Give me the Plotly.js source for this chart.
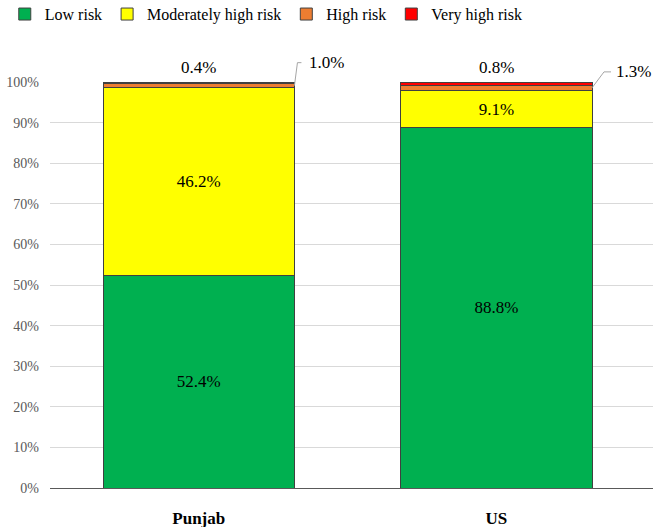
<!DOCTYPE html>
<html>
<head>
<meta charset="utf-8">
<script src="https://cdn.plot.ly/plotly-3.0.1.min.js"></script>
<style>html,body{margin:0;padding:0;background:#fff;}#chart{width:661px;height:527px;}</style>
</head>
<body>
<div id="chart"></div>
<script>
const categories = ['Punjab', 'US'];
const lowRisk = [52.4, 88.8];
const modRisk = [46.2, 9.1];
const highRisk = [1.0, 1.3];
const veryHighRisk = [0.4, 0.8];
const seriesNames = ['Low risk', 'Moderately high risk', 'High risk', 'Very high risk'];
const seriesColors = ['#00B050', '#FFFF00', '#ED7D31', '#FF0000'];

// style / layout constants
const FONT = '"Liberation Serif", "Times New Roman", serif';
const BARGAP = 0.357;
const Y_MAX = 100;
const halfBar = (1 - BARGAP) / 2;
// leader line geometry (pixels) for each category
const leaderUp = [23, 16];
const leaderDiag = [3, 12];
const leaderFlat = [4, 7];
const labelGap = [6, 3];

const allSeries = [lowRisk, modRisk, highRisk, veryHighRisk];
const traces = allSeries.map((vals, i) => ({
  type: 'bar',
  name: seriesNames[i],
  x: categories,
  y: vals,
  marker: {color: seriesColors[i], line: {color: '#404040', width: 1}},
  text: i < 2 ? vals.map(v => v.toFixed(1) + '%') : undefined,
  textposition: i < 2 ? 'inside' : 'none',
  insidetextanchor: 'middle',
  textangle: 0,
  insidetextfont: {family: FONT, size: 17, color: '#000'},
  hoverinfo: 'skip'
}));

const annotations = [];
const shapes = [];
categories.forEach((c, k) => {
  const total = lowRisk[k] + modRisk[k] + highRisk[k] + veryHighRisk[k];
  annotations.push({
    x: k, y: total, xref: 'x', yref: 'y',
    text: veryHighRisk[k].toFixed(1) + '%',
    showarrow: false, yanchor: 'bottom', yshift: 3,
    font: {family: FONT, size: 17, color: '#000'}
  });
  const yMid = lowRisk[k] + modRisk[k] + highRisk[k] / 2;
  const xEdge = k + halfBar;
  const dx = leaderDiag[k], dy = leaderUp[k], fx = leaderFlat[k];
  shapes.push({
    type: 'path', xref: 'x', yref: 'paper',
    xsizemode: 'pixel', ysizemode: 'pixel',
    xanchor: xEdge, yanchor: yMid / Y_MAX,
    path: `M0,0 L${dx},${dy} L${dx + fx},${dy}`,
    line: {color: '#a6a6a6', width: 1}
  });
  annotations.push({
    x: xEdge, y: yMid, xref: 'x', yref: 'y',
    text: highRisk[k].toFixed(1) + '%',
    showarrow: false, xanchor: 'left', yanchor: 'middle',
    xshift: dx + fx + labelGap[k], yshift: dy,
    font: {family: FONT, size: 17, color: '#000'}
  });
});

const layout = {
  width: 661, height: 527,
  font: {family: FONT},
  margin: {l: 50, r: 8, t: 82, b: 39, autoexpand: false},
  paper_bgcolor: '#fff', plot_bgcolor: '#fff',
  barmode: 'stack',
  bargap: BARGAP,
  showlegend: true,
  legend: {
    orientation: 'h', x: -0.075, xanchor: 'left', y: 1.209, yanchor: 'top',
    font: {family: FONT, size: 16, color: '#000'},
    traceorder: 'normal', bgcolor: 'rgba(0,0,0,0)'
  },
  xaxis: {
    type: 'category',
    showline: true, linecolor: '#595959', linewidth: 1.3,
    showgrid: false, zeroline: false,
    ticks: '', ticklabelstandoff: 14,
    tickfont: {family: FONT, size: 17, color: '#000', weight: 'bold'}
  },
  yaxis: {
    range: [0, Y_MAX], dtick: 10, ticksuffix: '%',
    showgrid: true, gridcolor: '#d9d9d9', gridwidth: 1,
    zeroline: false, showline: false,
    ticks: '', ticklabelstandoff: 10,
    tickfont: {family: FONT, size: 14, color: '#595959'}
  },
  annotations: annotations,
  shapes: shapes
};

Plotly.newPlot('chart', traces, layout, {staticPlot: true, displayModeBar: false});
</script>
</body>
</html>
